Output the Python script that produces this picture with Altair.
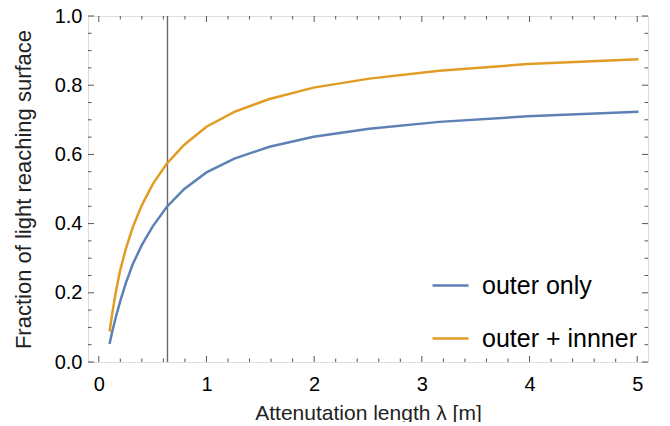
import altair as alt
import pandas as pd

# ---- data ----
lam = [0.1, 0.1259, 0.1585, 0.1995, 0.2512, 0.3162, 0.3981, 0.5012, 0.6310,
       0.7943, 1.0, 1.2589, 1.5849, 1.9953, 2.5119, 3.1623, 3.9811, 5.0119]
outer_only = [0.052, 0.089, 0.130, 0.176, 0.228, 0.283, 0.337, 0.392, 0.448,
              0.500, 0.548, 0.588, 0.622, 0.651, 0.674, 0.694, 0.710, 0.723]
outer_inner = [0.088, 0.142, 0.203, 0.266, 0.327, 0.390, 0.452, 0.514, 0.573,
               0.628, 0.680, 0.723, 0.760, 0.793, 0.819, 0.842, 0.861, 0.875]
series_names = ["outer only", "outer + innner"]
series_colors = ["#5E81B5", "#E19C24"]
marker_lambda = [0.638]

x_major = [0, 1, 2, 3, 4, 5]
x_minor = [v / 10 for v in range(2, 50, 2) if v % 10 != 0]
y_major = [0.0, 0.2, 0.4, 0.6, 0.8, 1.0]
y_minor = [v / 100 for v in range(5, 100, 5) if v % 20 != 0]

W, H = 560, 346
FONT = "Liberation Sans"
FRAME = "#555555"

df = pd.DataFrame({
    "lam": lam * 2,
    "frac": outer_only + outer_inner,
    "series": [series_names[0]] * len(lam) + [series_names[1]] * len(lam),
})

xscale = alt.Scale(domain=[-0.1, 5.1], nice=False, zero=False)
yscale = alt.Scale(domain=[0, 1], nice=False, zero=False)

xaxis = alt.Axis(title="Attenutation length λ [m]", values=x_major,
                 format="d", grid=False, domain=False, ticks=False,
                 labelFontSize=20, labelPadding=12, titleFontSize=21,
                 titlePadding=8, labelFont=FONT, titleFont=FONT,
                 titleFontWeight="normal", labelColor="black",
                 titleColor="#222")
yaxis = alt.Axis(title="Fraction of light reaching surface",
                 values=y_major, format=".1f", grid=False,
                 domain=False, ticks=False, labelFontSize=20,
                 labelPadding=6, titleFontSize=22, titlePadding=19,
                 labelFont=FONT, titleFont=FONT,
                 titleFontWeight="normal", labelColor="black",
                 titleColor="#222")

X = alt.X("lam:Q", scale=xscale, axis=xaxis)
Y = alt.Y("frac:Q", scale=yscale, axis=yaxis)

lines = alt.Chart(df).mark_line(strokeWidth=2.5).encode(
    x=X, y=Y,
    color=alt.Color("series:N",
                    scale=alt.Scale(domain=series_names, range=series_colors),
                    legend=alt.Legend(title=None, orient="none",
                                      legendX=343, legendY=250,
                                      symbolType="stroke", symbolSize=1296,
                                      symbolStrokeWidth=2.5, labelFontSize=25,
                                      labelFont=FONT, labelColor="black",
                                      labelOffset=12, rowPadding=20,
                                      padding=0)),
)

vline = alt.Chart(pd.DataFrame({"lam": marker_lambda})).mark_rule(
    color="#6a6a6a", strokeWidth=1.4).encode(x=X)

def xticks(vals, length):
    d = pd.DataFrame({"lam": vals})
    bottom = alt.Chart(d).mark_rule(color=FRAME, strokeWidth=1).encode(
        x=X, y=alt.value(H), y2=alt.value(H - length))
    top = alt.Chart(d).mark_rule(color=FRAME, strokeWidth=1).encode(
        x=X, y=alt.value(0), y2=alt.value(length))
    return [bottom, top]

def yticks(vals, length):
    d = pd.DataFrame({"frac": vals})
    left = alt.Chart(d).mark_rule(color=FRAME, strokeWidth=1).encode(
        y=Y, x=alt.value(0), x2=alt.value(length))
    right = alt.Chart(d).mark_rule(color=FRAME, strokeWidth=1).encode(
        y=Y, x=alt.value(W), x2=alt.value(W - length))
    return [left, right]

layers = (xticks(x_major, 6) + xticks(x_minor, 3.5) +
          yticks(y_major, 6) + yticks(y_minor, 3.5) + [vline, lines])

chart = alt.layer(*layers).properties(
    width=W, height=H,
    autosize=alt.AutoSizeParams(type="none"),
    padding={"left": 80, "top": 8, "right": 14, "bottom": 60},
).configure_view(stroke=FRAME, strokeWidth=1.3).configure(background="white")

chart.save("out.html", embed_options={"renderer": "svg", "actions": False})
